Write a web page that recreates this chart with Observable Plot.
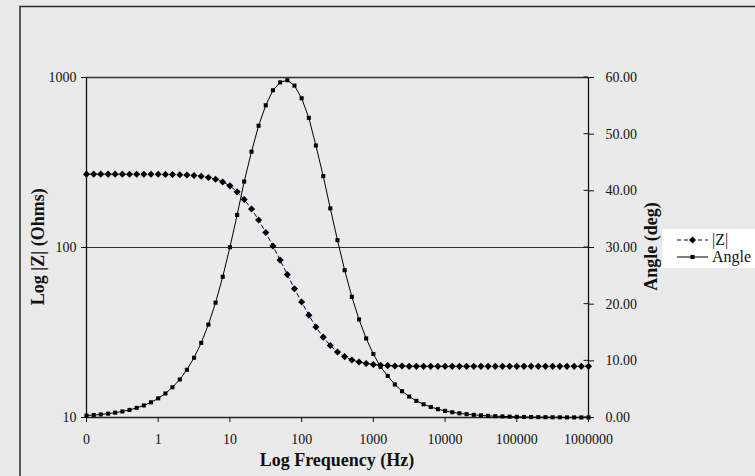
<!DOCTYPE html>
<html><head><meta charset="utf-8">
<script src="https://cdn.jsdelivr.net/npm/d3@7"></script>
<script src="https://cdn.jsdelivr.net/npm/@observablehq/plot@0.6"></script>
<style>
html,body{margin:0;padding:0;background:#eaeaea;}
#chart{position:relative;width:755px;height:476px;overflow:hidden;}
</style></head><body><div id="chart"></div>
<script>
const freq = [0.1,0.126,0.158,0.2,0.251,0.316,0.398,0.501,0.631,0.794,
  1,1.26,1.58,2,2.51,3.16,3.98,5.01,6.31,7.94,
  10,12.6,15.8,20,25.1,31.6,39.8,50.1,63.1,79.4,
  100,126,158,200,251,316,398,501,631,794,
  1000,1259,1585,1995,2512,3162,3981,5012,6310,7943,
  10000,12589,15849,19953,25119,31623,39811,50119,63096,79433,
  100000,125893,158489,199526,251189,316228,398107,501187,630957,794328,
  1000000];
const zMag = [270.0,270.0,270.0,270.0,270.0,270.0,269.9,269.9,269.8,269.7,
  269.5,269.2,268.8,268.0,266.9,265.1,262.4,258.2,251.9,242.9,
  230.5,212.5,191.5,168.5,145.0,122.5,102.0,84.3,69.3,57.2,
  47.8,40.0,34.1,29.7,26.5,24.3,22.8,21.8,21.2,20.8,
  20.5,20.3,20.2,20.1,20.1,20.0,20.0,20.0,20.0,20.0,
  20.0,20.0,20.0,20.0,20.0,20.0,20.0,20.0,20.0,20.0,
  20.0,20.0,20.0,20.0,20.0,20.0,20.0,20.0,20.0,20.0,
  20.0];
const angle = [0.34,0.43,0.54,0.68,0.85,1.07,1.34,1.70,2.13,2.68,
  3.38,4.24,5.34,6.71,8.42,10.55,13.18,16.40,20.27,24.84,
  30.05,35.74,41.64,46.91,51.49,55.09,57.75,59.14,59.52,58.57,
  56.33,52.88,48.00,42.60,36.90,31.30,26.00,21.30,17.30,13.95,
  11.20,8.95,7.33,5.83,4.64,3.69,2.93,2.33,1.85,1.47,
  1.17,0.93,0.74,0.59,0.47,0.37,0.29,0.23,0.19,0.15,
  0.12,0.09,0.07,0.06,0.05,0.04,0.03,0.02,0.02,0.01,
  0.01];
const xTicks = [0.1,1,10,100,1000,10000,100000,1000000];
const xTickLabels = ["0","1","10","100","1000","10000","100000","1000000"];
const zTicks = [10,100,1000];
const angleTicks = [0,10,20,30,40,50,60];
const seriesNames = ["|Z|","Angle"];
const titles = {x:"Log Frequency (Hz)", yLeft:"Log |Z| (Ohms)", yRight:"Angle (deg)"};

const zMin = 10, zMax = 1000, aMin = 0, aMax = 60;
const angleToZ = a => zMin * Math.pow(zMax / zMin, (a - aMin) / (aMax - aMin));
const zToAngle = z => aMin + (aMax - aMin) * Math.log(z / zMin) / Math.log(zMax / zMin);

const data = freq.map((f, i) => ({f, z: zMag[i], a: angle[i], az: angleToZ(angle[i])}));
const font = "'Liberation Serif','Times New Roman',serif";
const diamondSym = d3.symbolDiamond2 || d3.symbolDiamond;

const plot = Plot.plot({
  width: 755, height: 476,
  marginLeft: 86, marginRight: 167, marginTop: 77, marginBottom: 59,
  style: {background: "transparent", fontFamily: font, fontSize: "14px", color: "#111"},
  x: {type: "log", domain: [0.1, 1e6]},
  y: {type: "log", domain: [zMin, zMax]},
  marks: [
    Plot.ruleY([100], {stroke: "#333", strokeWidth: 1}),
    Plot.ruleY([1000], {stroke: "#333", strokeWidth: 1.6}),
    Plot.ruleY([10], {stroke: "#222", strokeWidth: 1.3}),
    Plot.ruleX([0.1], {stroke: "#111", strokeWidth: 1.3}),
    Plot.ruleX([1e6], {stroke: "#111", strokeWidth: 1.3}),
    Plot.axisX({ticks: xTicks, tickFormat: d => xTickLabels[xTicks.indexOf(d)], tickSize: 5, tickPadding: 12, label: null}),
    Plot.axisY({ticks: zTicks, tickFormat: d => String(d), tickSize: 5, tickPadding: 5, label: null}),
    Plot.axisY({anchor: "right", ticks: angleTicks.map(angleToZ), tickFormat: z => Math.round(zToAngle(z)).toFixed(2), tickSize: 5, tickPadding: 12, label: null}),
    Plot.line(data, {x: "f", y: "az", stroke: "#000", strokeWidth: 1}),
    Plot.dot(data, {x: "f", y: "az", symbol: "square", r: 2.3, fill: "#000", stroke: "none"}),
    Plot.line(data, {x: "f", y: "z", stroke: "#000080", strokeWidth: 1, strokeDasharray: "4,3"}),
    Plot.dot(data, {x: "f", y: "z", symbol: diamondSym, r: 3.2, fill: "#000", stroke: "none"})
  ]
});
document.getElementById("chart").appendChild(plot);

const svg = d3.select(plot);
const xs = plot.scale("x"), ys = plot.scale("y");
svg.insert("rect", ":first-child").attr("x", 20).attr("y", 6.5).attr("width", 900).attr("height", 900)
  .attr("fill", "none").attr("stroke", "#2b2b2b").attr("stroke-width", 1.5);

// inward halves of the right-axis cross ticks
const xr = xs.apply(1e6);
angleTicks.forEach(a => {
  const y = ys.apply(angleToZ(a));
  svg.append("line").attr("x1", xr - 4.5).attr("x2", xr).attr("y1", y).attr("y2", y)
    .attr("stroke", "#111").attr("stroke-width", 1);
});

const tt = (x, y, rot, s) => svg.append("text")
  .attr("transform", `translate(${x},${y})` + (rot ? ` rotate(${rot})` : ""))
  .attr("text-anchor", "middle").attr("font-family", font).attr("font-size", 18)
  .attr("font-weight", "bold").attr("fill", "#111").text(s);
tt(337, 466, 0, titles.x);
tt(44, 246.7, -90, titles.yLeft);
tt(657, 246.5, -90, titles.yRight);

const lg = svg.append("g");
lg.append("rect").attr("x", 662).attr("y", 229).attr("width", 100).attr("height", 39).attr("fill", "#fff");
lg.append("line").attr("x1", 677).attr("x2", 708).attr("y1", 240).attr("y2", 240)
  .attr("stroke", "#000080").attr("stroke-dasharray", "4,3");
lg.append("path").attr("transform", "translate(692.5,240)").attr("d", d3.symbol(diamondSym, 32)()).attr("fill", "#000");
lg.append("line").attr("x1", 677).attr("x2", 708).attr("y1", 257).attr("y2", 257).attr("stroke", "#000");
lg.append("path").attr("transform", "translate(692.5,257)").attr("d", d3.symbol(d3.symbolSquare, 17)()).attr("fill", "#000");
seriesNames.forEach((s, i) => lg.append("text").attr("x", 712).attr("y", 245 + i * 17)
  .attr("text-anchor", "start").attr("font-family", font).attr("font-size", 16).attr("fill", "#111").text(s));
</script></body></html>
